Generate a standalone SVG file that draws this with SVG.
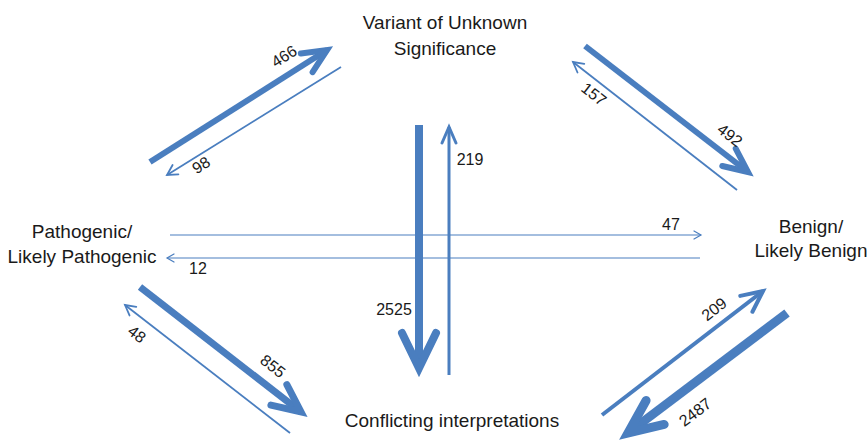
<svg xmlns="http://www.w3.org/2000/svg" width="867" height="443" viewBox="0 0 867 443">
<style>
.lbl{font-family:"Liberation Sans",Arial,sans-serif;font-size:19px;fill:#1a1a1a;text-anchor:middle}
.num{font-family:"Liberation Sans",Arial,sans-serif;font-size:16px;fill:#1a1a1a;text-anchor:middle}
.ar{stroke:#4A7EBF;fill:none}
.hd{fill:none;stroke:#4A7EBF;stroke-linecap:round;stroke-linejoin:miter}
</style>
<defs>
<marker id="h6" markerUnits="userSpaceOnUse" markerWidth="1" markerHeight="1" refX="0" refY="0" orient="auto" overflow="visible"><path class="hd" d="M-24,-11 L0,0 L-24,11" stroke-width="6"/></marker>
<marker id="h7" markerUnits="userSpaceOnUse" markerWidth="1" markerHeight="1" refX="0" refY="0" orient="auto" overflow="visible"><path class="hd" d="M-28,-13 L0,0 L-28,13" stroke-width="7"/></marker>
<marker id="h8" markerUnits="userSpaceOnUse" markerWidth="1" markerHeight="1" refX="0" refY="0" orient="auto" overflow="visible"><path class="hd" d="M-35,-17 L0,0 L-35,17" stroke-width="8"/></marker>
<marker id="h9" markerUnits="userSpaceOnUse" markerWidth="1" markerHeight="1" refX="0" refY="0" orient="auto" overflow="visible"><path class="hd" d="M-34,-15 L0,0 L-34,15" stroke-width="9"/></marker>
<marker id="h4" markerUnits="userSpaceOnUse" markerWidth="1" markerHeight="1" refX="0" refY="0" orient="auto" overflow="visible"><path class="hd" d="M-21,-10 L0,0 L-21,10" stroke-width="4"/></marker>
<marker id="h3" markerUnits="userSpaceOnUse" markerWidth="1" markerHeight="1" refX="0" refY="0" orient="auto" overflow="visible"><path class="hd" d="M-16,-7 L0,0 L-16,7" stroke-width="3"/></marker>
<marker id="h2" markerUnits="userSpaceOnUse" markerWidth="1" markerHeight="1" refX="0" refY="0" orient="auto" overflow="visible"><path class="hd" d="M-10,-5.5 L0,0 L-10,5.5" stroke-width="1.8"/></marker>
<marker id="h1" markerUnits="userSpaceOnUse" markerWidth="1" markerHeight="1" refX="0" refY="0" orient="auto" overflow="visible"><path class="hd" d="M-7,-4 L0,0 L-7,4" stroke-width="1.2"/></marker>
</defs>
<rect width="867" height="443" fill="#ffffff"/>
<g id="connectors">
<line class="ar" x1="150" y1="162" x2="327" y2="50" stroke-width="6" marker-end="url(#h6)"/>
<line class="ar" x1="341" y1="67" x2="167" y2="175" stroke-width="1.8" marker-end="url(#h2)"/>
<line class="ar" x1="585" y1="46" x2="748" y2="172" stroke-width="6" marker-end="url(#h6)"/>
<line class="ar" x1="737" y1="190" x2="573" y2="62" stroke-width="1.8" marker-end="url(#h2)"/>
<line class="ar" x1="140" y1="287" x2="301" y2="412" stroke-width="7" marker-end="url(#h7)"/>
<line class="ar" x1="290" y1="433" x2="125" y2="305" stroke-width="1.8" marker-end="url(#h2)"/>
<line class="ar" x1="602" y1="415" x2="763" y2="291" stroke-width="4" marker-end="url(#h4)"/>
<line class="ar" x1="787" y1="313" x2="628" y2="433" stroke-width="9" marker-end="url(#h9)"/>
<line class="ar" x1="419" y1="125" x2="419" y2="368" stroke-width="8" marker-end="url(#h8)"/>
<line class="ar" x1="449" y1="375" x2="449" y2="127" stroke-width="3" marker-end="url(#h3)"/>
<line class="ar" x1="170" y1="235" x2="701" y2="235" stroke-width="1.2" marker-end="url(#h1)"/>
<line class="ar" x1="700" y1="258" x2="167" y2="258" stroke-width="1.2" marker-end="url(#h1)"/>
<text class="num" transform="translate(284,56) rotate(-32)" y="5.7">466</text>
<text class="num" transform="translate(201,165) rotate(-32)" y="5.7">98</text>
<text class="num" transform="translate(594,94) rotate(38)" y="5.7">157</text>
<text class="num" transform="translate(730,135) rotate(38)" y="5.7">492</text>
<text class="num" transform="translate(273,366) rotate(38)" y="5.7">855</text>
<text class="num" transform="translate(137,334) rotate(38)" y="5.7">48</text>
<text class="num" transform="translate(714,309) rotate(-38)" y="5.7">209</text>
<text class="num" transform="translate(695,412) rotate(-37)" y="5.7">2487</text>
<text class="num" x="470" y="165">219</text>
<text class="num" x="394" y="315">2525</text>
<text class="num" x="671" y="230">47</text>
<text class="num" x="198" y="274">12</text>
</g>
<g id="vus">
<text class="lbl" x="445" y="29">Variant of Unknown</text>
<text class="lbl" x="445" y="55">Significance</text>
</g>
<g id="pathogenic">
<text class="lbl" x="82" y="238">Pathogenic/</text>
<text class="lbl" x="82" y="263">Likely Pathogenic</text>
</g>
<g id="benign">
<text class="lbl" x="811" y="233">Benign/</text>
<text class="lbl" x="811" y="257">Likely Benign</text>
</g>
<g id="conflicting">
<text class="lbl" x="452" y="427">Conflicting interpretations</text>
</g>
</svg>
